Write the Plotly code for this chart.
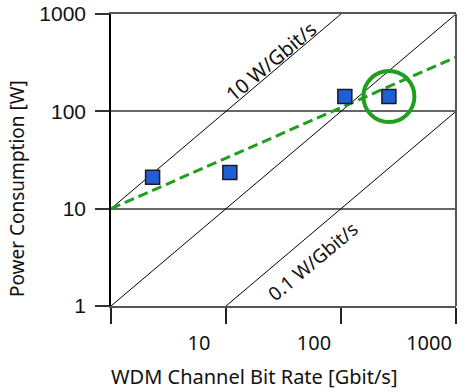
import plotly.graph_objects as go

# Data
bit_rate = [2.3, 10.8, 108, 261]          # Gbit/s
power = [21, 23.5, 142, 142]              # W
highlight_x = [261]
highlight_y = [142]
fit_x = [1, 1000]
fit_y = [10, 361]
ref_10_x = [1, 100]
ref_10_y = [10, 1000]
ref_1_x = [1, 1000]
ref_1_y = [1, 1000]
ref_01_x = [10, 1000]
ref_01_y = [1, 100]
tick_vals = [1, 10, 100, 1000]
x_tick_text = ["", "10", "100", "1000"]
y_tick_text = ["1", "10", "100", "1000"]

GREEN = "#1f9e1f"

fig = go.Figure()
for xs, ys in [(ref_10_x, ref_10_y), (ref_1_x, ref_1_y), (ref_01_x, ref_01_y)]:
    fig.add_trace(go.Scatter(x=xs, y=ys, mode="lines",
                             line=dict(color="black", width=1), hoverinfo="skip"))
fig.add_trace(go.Scatter(x=fit_x, y=fit_y, mode="lines",
                         line=dict(color=GREEN, width=3, dash="10px,5px")))
fig.add_trace(go.Scatter(x=bit_rate, y=power, mode="markers",
                         marker=dict(symbol="square", size=14, color="#1f5fd6",
                                     line=dict(color="#1a1a2a", width=1.5))))
fig.add_trace(go.Scatter(x=highlight_x, y=highlight_y, mode="markers",
                         marker=dict(symbol="circle-open", size=51, color=GREEN,
                                     line=dict(color=GREEN, width=4))))

fig.update_layout(
    width=468, height=392,
    margin=dict(l=111, r=12, t=14, b=86, autoexpand=False),
    paper_bgcolor="white", plot_bgcolor="white",
    showlegend=False,
    xaxis=dict(type="log", range=[0, 3], tickvals=tick_vals, ticktext=x_tick_text,
               ticks="outside", ticklen=16, tickwidth=1.5, tickcolor="#222",
               showgrid=False, zeroline=False, automargin=False,
               showline=True, linecolor="#555", linewidth=2, mirror=True,
               ticklabelshift=-27, ticklabelstandoff=2, ticklabeloverflow="allow",
               tickfont=dict(family="Noto Sans", size=20, color="#111")),
    yaxis=dict(type="log", range=[0, 3], tickvals=tick_vals, ticktext=y_tick_text,
               ticks="outside", ticklen=14, tickwidth=1.5, tickcolor="#333",
               showgrid=True, gridcolor="#666", gridwidth=2, zeroline=False,
               showline=True, linecolor="black", linewidth=1.5, automargin=False,
               ticklabelstandoff=5, ticklabeloverflow="allow",
               tickfont=dict(family="Liberation Sans", size=21, color="#111")),
    shapes=[dict(type="line", xref="paper", yref="paper", x0=1, x1=1, y0=0, y1=1,
                 line=dict(color="#555", width=2))],
    annotations=[
        dict(text="WDM Channel Bit Rate [Gbit/s]", xref="paper", yref="paper",
             x=0.4145, y=-0.243, xanchor="center", yanchor="middle", showarrow=False,
             font=dict(family="Noto Sans", size=20, color="#111")),
        dict(text="Power Consumption [W]", xref="paper", yref="paper",
             x=-0.2725, y=0.404, xanchor="center", yanchor="middle",
             showarrow=False, textangle=-90,
             font=dict(family="Noto Sans", size=19, color="#111")),
        dict(text="10 W/Gbit/s", x=1.39, y=2.51, showarrow=False, textangle=-40,
             xanchor="center", yanchor="middle",
             font=dict(family="Noto Sans", size=20, color="#111")),
        dict(text="0.1 W/Gbit/s", x=1.76, y=0.46, showarrow=False, textangle=-40,
             xanchor="center", yanchor="middle",
             font=dict(family="Noto Sans", size=19, color="#111")),
    ],
)

# remove the default 8px page margin so the figure sits at the window's corner
fig.write_html("out.html", config={"displayModeBar": False},
               post_script="document.body.style.margin='0';")
